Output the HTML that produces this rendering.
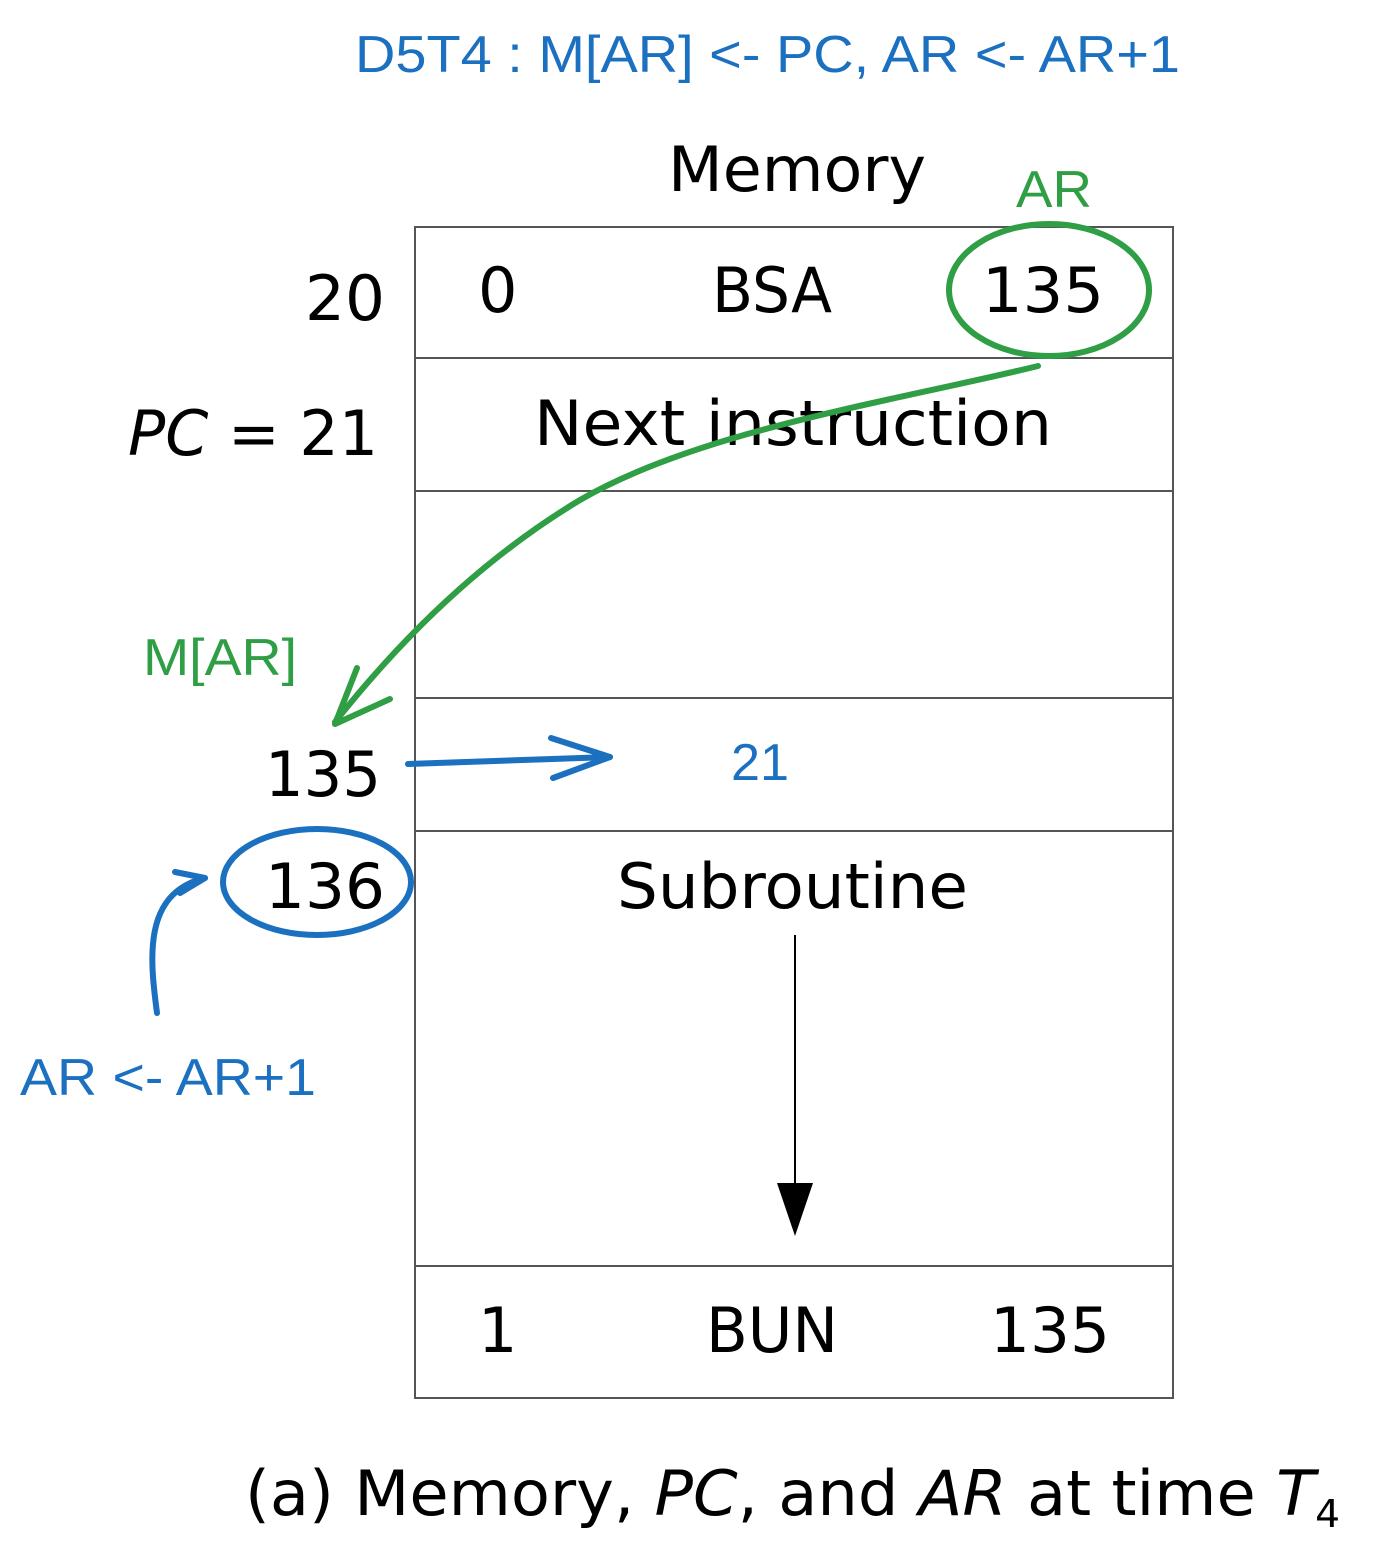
<!DOCTYPE html>
<html><head><meta charset="utf-8"><style>
html,body{margin:0;padding:0;background:#fff;width:1378px;height:1557px;overflow:hidden}
svg{display:block}
.k{font-family:"DejaVu Sans","Liberation Sans",sans-serif;fill:#000}
.b{font-family:"Liberation Sans",sans-serif;fill:#1b70c0}
.g{font-family:"Liberation Sans",sans-serif;fill:#2f9e44}
</style></head><body>
<svg width="1378" height="1557" viewBox="0 0 1378 1557">
<text class="b" x="355" y="72" font-size="52" textLength="825" lengthAdjust="spacingAndGlyphs">D5T4 : M[AR] &lt;- PC, AR &lt;- AR+1</text>
<text class="k" x="668" y="191" font-size="62" textLength="258" lengthAdjust="spacingAndGlyphs">Memory</text>
<text class="g" x="1016" y="207" font-size="52" textLength="76" lengthAdjust="spacingAndGlyphs">AR</text>
<g stroke="#555" stroke-width="2" fill="none">
<rect x="415" y="227" width="758" height="1171"/>
<line x1="415" y1="358" x2="1173" y2="358"/>
<line x1="415" y1="491" x2="1173" y2="491"/>
<line x1="415" y1="698" x2="1173" y2="698"/>
<line x1="415" y1="831" x2="1173" y2="831"/>
<line x1="415" y1="1266" x2="1173" y2="1266"/>
</g>
<text class="k" x="305" y="320" font-size="62" textLength="80" lengthAdjust="spacingAndGlyphs">20</text>
<text class="k" x="478" y="312" font-size="62">0</text>
<text class="k" x="712" y="312" font-size="62" textLength="120" lengthAdjust="spacingAndGlyphs">BSA</text>
<text class="k" x="982" y="312" font-size="62" textLength="122" lengthAdjust="spacingAndGlyphs">135</text>
<text class="k" x="128" y="455" font-size="62" textLength="250" lengthAdjust="spacingAndGlyphs"><tspan font-style="italic">PC</tspan> = 21</text>
<text class="k" x="534" y="445" font-size="62" textLength="518" lengthAdjust="spacingAndGlyphs">Next instruction</text>
<text class="k" x="265" y="796" font-size="62" textLength="116" lengthAdjust="spacingAndGlyphs">135</text>
<text class="k" x="265" y="908" font-size="62" textLength="120" lengthAdjust="spacingAndGlyphs">136</text>
<text class="k" x="617" y="908" font-size="62" textLength="351" lengthAdjust="spacingAndGlyphs">Subroutine</text>
<text class="k" x="478" y="1352" font-size="62">1</text>
<text class="k" x="706" y="1352" font-size="62" textLength="132" lengthAdjust="spacingAndGlyphs">BUN</text>
<text class="k" x="990" y="1352" font-size="62" textLength="120" lengthAdjust="spacingAndGlyphs">135</text>
<line x1="795" y1="935" x2="795" y2="1190" stroke="#000" stroke-width="2"/>
<polygon points="777,1183 813,1183 795,1236" fill="#000"/>
<text class="b" x="731" y="780" font-size="52" textLength="58" lengthAdjust="spacingAndGlyphs">21</text>
<text class="g" x="143" y="675" font-size="52" textLength="154" lengthAdjust="spacingAndGlyphs">M[AR]</text>
<text class="b" x="20" y="1095" font-size="52" textLength="296" lengthAdjust="spacingAndGlyphs">AR &lt;- AR+1</text>
<text class="k" x="245" y="1515" font-size="62" textLength="1095" lengthAdjust="spacingAndGlyphs">(a) Memory, <tspan font-style="italic">PC</tspan>, and <tspan font-style="italic">AR</tspan> at time  <tspan font-style="italic">T</tspan><tspan font-size="38" dy="12">4</tspan></text>
<g fill="none" stroke-linecap="round" stroke-linejoin="round">
<ellipse cx="1049" cy="290" rx="100" ry="66" stroke="#2f9e44" stroke-width="6"/>
<path d="M1038,366 C900,400 700,430 580,500 C480,560 400,640 335,722" stroke="#2f9e44" stroke-width="6"/>
<path d="M357,668 L335,724 L390,699" stroke="#2f9e44" stroke-width="6"/>
<path d="M408,764 L610,757" stroke="#1b70c0" stroke-width="6"/>
<path d="M551,738 L610,757 L553,778" stroke="#1b70c0" stroke-width="6"/>
<ellipse cx="317" cy="882" rx="94" ry="53" stroke="#1b70c0" stroke-width="6"/>
<path d="M157,1013 C150,960 142,893 205,878" stroke="#1b70c0" stroke-width="6"/>
<path d="M175,872 L205,878 L180,893" stroke="#1b70c0" stroke-width="6"/>
</g>
</svg>
</body></html>
